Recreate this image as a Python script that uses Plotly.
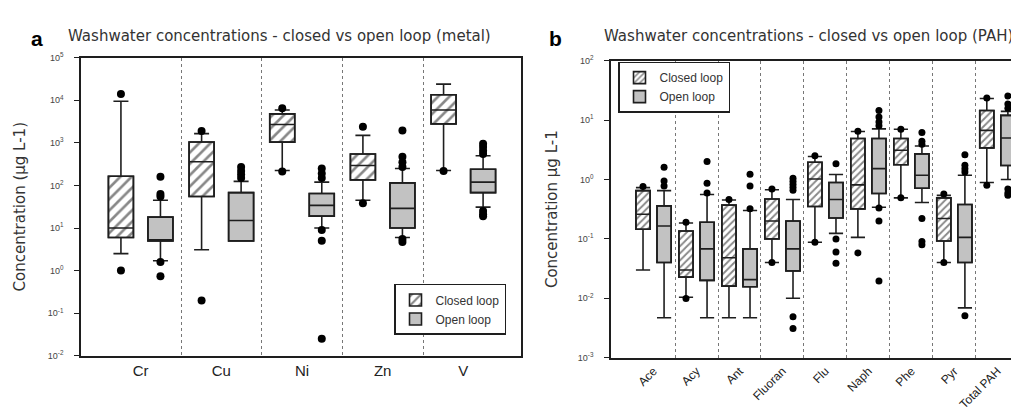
import plotly.graph_objects as go

# ---------------- data: panel a (metals) ----------------
metals = ["Cr", "Cu", "Ni", "Zn", "V"]
m_closed_lf = [2.5, 3.1, 225, 45, 225]
m_closed_q1 = [6, 55, 1040, 135, 2800]
m_closed_med = [10, 360, 2700, 295, 5900]
m_closed_q3 = [165, 1050, 4800, 550, 13500]
m_closed_uf = [9500, 1650, 5900, 1500, 24000]
m_closed_out = [[14000, 1.0], [1900, 0.2], [6500, 212], [2400, 38], [220]]

m_open_lf = [1.7, 5, 10, 6, 31]
m_open_q1 = [5, 5, 19, 10, 68]
m_open_med = [5, 15, 34, 29, 120]
m_open_q3 = [18, 68, 65, 115, 240]
m_open_uf = [45, 125, 120, 250, 500]
m_open_out = [[160, 63, 55, 1.6, 0.74],
              [270, 220, 180, 150],
              [250, 190, 150, 9, 5, 0.025],
              [1950, 470, 350, 270, 5.5, 4.7],
              [950, 800, 650, 550, 25, 21, 19]]

# ---------------- data: panel b (PAH) ----------------
pahs = ["Ace", "Acy", "Ant", "Fluoran", "Flu", "Naph", "Phe", "Pyr", "Total PAH"]
p_closed_lf = [0.030, 0.0104, 0.0047, 0.040, 0.088, 0.106, 0.49, 0.040, 0.89]
p_closed_q1 = [0.145, 0.0227, 0.016, 0.10, 0.35, 0.32, 1.77, 0.092, 3.4]
p_closed_med = [0.26, 0.030, 0.048, 0.20, 1.02, 0.81, 3.1, 0.22, 6.7]
p_closed_q3 = [0.65, 0.136, 0.37, 0.47, 1.95, 4.9, 4.9, 0.49, 14.5]
p_closed_uf = [0.73, 0.185, 0.45, 0.67, 2.44, 6.4, 7.0, 0.54, 23]
p_closed_out = [[0.76], [0.19, 0.0099], [0.46], [0.69, 0.04], [2.5, 0.088],
                [6.5, 0.058], [7.0, 0.49], [0.57, 0.040], [23.5, 0.8]]

p_open_lf = [0.0047, 0.0047, 0.0047, 0.010, 0.124, 0.34, 0.41, 0.0069, 1.0]
p_open_q1 = [0.040, 0.020, 0.0156, 0.029, 0.225, 0.58, 0.71, 0.040, 1.72]
p_open_med = [0.165, 0.068, 0.0206, 0.068, 0.46, 1.52, 1.18, 0.106, 5.0]
p_open_q3 = [0.36, 0.19, 0.068, 0.20, 0.89, 4.9, 2.7, 0.38, 12]
p_open_uf = [0.65, 0.56, 0.30, 0.46, 1.21, 7.1, 3.65, 1.18, 14]
p_open_out = [[1.6, 0.94, 0.78], [2.0, 0.86, 0.59], [1.22, 0.78, 0.32],
              [1.05, 0.93, 0.83, 0.74, 0.66, 0.0049, 0.0031],
              [1.83, 0.10, 0.060, 0.039],
              [14.5, 11.3, 9.3, 8.0, 0.33, 0.20, 0.0195],
              [6.2, 4.4, 3.9, 0.22, 0.09, 0.08],
              [2.6, 1.73, 1.52, 1.34, 0.0051],
              [25.5, 18.6, 15.8, 0.69, 0.59, 0.54]]

metal_ticks = [1e-2, 1e-1, 1, 10, 100, 1e3, 1e4, 1e5]
metal_ticktext = ["10<sup>-2</sup>", "10<sup>-1</sup>", "10<sup>0</sup>", "10<sup>1</sup>",
                  "10<sup>2</sup>", "10<sup>3</sup>", "10<sup>4</sup>", "10<sup>5</sup>"]
pah_ticks = [1e-3, 1e-2, 1e-1, 1, 10, 100]
pah_ticktext = ["10<sup>-3</sup>", "10<sup>-2</sup>", "10<sup>-1</sup>", "10<sup>0</sup>",
                "10<sup>1</sup>", "10<sup>2</sup>"]

# ---------------- style ----------------
FONT = "Liberation Sans, Arial, sans-serif"
TFONT = "DejaVu Sans, Verdana, sans-serif"
LINE = "#1e1e1e"
GREY = "#c2c2c2"
OFF = 0.245

fig = go.Figure()


def add_panel(cats, groups, xa, ya, legend, bw, hatch_size, hatch_sol, whisk, msize):
    n = len(cats)
    for gi, (name, lf, q1, med, q3, uf, outs) in enumerate(groups):
        off = -OFF if gi == 0 else OFF
        xs = [i + off for i in range(n)]
        if gi == 0:
            marker = dict(color="white", line=dict(color=LINE, width=1.6),
                          pattern=dict(shape="/", fgcolor="#111111", bgcolor="white",
                                       size=hatch_size, solidity=hatch_sol))
        else:
            marker = dict(color=GREY, line=dict(color=LINE, width=1.6))
        fig.add_trace(go.Bar(x=xs, y=[b - a for a, b in zip(q1, q3)], base=q1,
                             width=bw, marker=marker, name=name, xaxis=xa, yaxis=ya,
                             legend=legend, showlegend=True, hoverinfo="skip"))
        fig.add_trace(go.Box(x=xs, q1=q1, median=med, q3=q3, lowerfence=lf,
                             upperfence=uf, orientation="v", width=bw,
                             whiskerwidth=whisk, fillcolor="rgba(0,0,0,0)",
                             line=dict(color=LINE, width=1.6), boxpoints=False,
                             xaxis=xa, yaxis=ya, showlegend=False, hoverinfo="skip"))
        ox, oy = [], []
        for i, vals in enumerate(outs):
            for v in vals:
                ox.append(xs[i])
                oy.append(v)
        fig.add_trace(go.Scatter(x=ox, y=oy, mode="markers",
                                 marker=dict(color="black", size=msize),
                                 xaxis=xa, yaxis=ya, showlegend=False, hoverinfo="skip"))


add_panel(metals,
          [("Closed loop", m_closed_lf, m_closed_q1, m_closed_med, m_closed_q3, m_closed_uf, m_closed_out),
           ("Open loop", m_open_lf, m_open_q1, m_open_med, m_open_q3, m_open_uf, m_open_out)],
          "x", "y", "legend", 0.31, 8, 0.33, 0.6, 8)
add_panel(pahs,
          [("Closed loop", p_closed_lf, p_closed_q1, p_closed_med, p_closed_q3, p_closed_uf, p_closed_out),
           ("Open loop", p_open_lf, p_open_q1, p_open_med, p_open_q3, p_open_uf, p_open_out)],
          "x2", "y2", "legend2", 0.33, 5, 0.38, 1.0, 7)

axis_common = dict(showline=True, linecolor=LINE, linewidth=1.5, zeroline=False, showgrid=False)

fig.update_layout(
    width=1019, height=412, margin=dict(l=0, r=0, t=0, b=0),
    paper_bgcolor="white", plot_bgcolor="white",
    font=dict(family=FONT, color="#333333"),
    barmode="overlay", boxmode="overlay",
    xaxis=dict(domain=[73 / 1019, 513 / 1019], range=[-0.74, 4.715],
               tickmode="array", tickvals=list(range(len(metals))), ticktext=metals,
               ticks="", mirror=True, tickfont=dict(size=15, color="#222"),
               minor=dict(tickvals=[i + 0.5 for i in range(len(metals) - 1)], showgrid=True,
                          griddash="dot", gridcolor="#777777", gridwidth=1, ticks=""),
               **axis_common),
    yaxis=dict(domain=[(412 - 351) / 412, (412 - 44) / 412], type="log", range=[-2, 5],
               tickmode="array", tickvals=metal_ticks, ticktext=metal_ticktext,
               ticks="outside", ticklen=5, tickcolor=LINE, mirror=True,
               tickfont=dict(size=9, color="#444"), ticklabelstandoff=9,
               title=dict(text="Concentration (µg L-1)",
                          font=dict(family=TFONT, size=15, color="#333"), standoff=19),
               **axis_common),
    xaxis2=dict(domain=[603 / 1019, 1.0], range=[-0.99, 8.69], anchor="y2",
                tickmode="array", tickvals=list(range(len(pahs))), ticktext=pahs,
                tickangle=-45, ticks="", mirror=True, tickfont=dict(size=12, color="#222"),
                minor=dict(tickvals=[i + 0.5 for i in range(len(pahs) - 1)], showgrid=True,
                           griddash="dot", gridcolor="#777777", gridwidth=1, ticks=""),
                **axis_common),
    yaxis2=dict(domain=[(412 - 353) / 412, (412 - 47) / 412], type="log", range=[-3, 2],
                anchor="x2", tickmode="array", tickvals=pah_ticks, ticktext=pah_ticktext,
                ticks="outside", ticklen=5, tickcolor=LINE, mirror=False,
                tickfont=dict(size=9, color="#444"), ticklabelstandoff=9,
                title=dict(text="Concentration µg L-1",
                           font=dict(family=TFONT, size=15, color="#333"), standoff=17),
                **axis_common),
    legend=dict(x=386 / 1019, y=(412 - 277) / 412, xanchor="left", yanchor="top",
                bgcolor="white", bordercolor=LINE, borderwidth=1.5,
                font=dict(size=12, color="#333"), tracegroupgap=0),
    legend2=dict(x=610 / 1019, y=(412 - 48) / 412, xanchor="left", yanchor="top",
                 bgcolor="white", bordercolor=LINE, borderwidth=1.5,
                 font=dict(size=12, color="#333"), tracegroupgap=0),
    annotations=[
        dict(text="Washwater concentrations - closed vs open loop (metal)", x=58 / 1019,
             y=(412 - 22) / 412, xref="paper", yref="paper", xanchor="left", yanchor="middle",
             showarrow=False, font=dict(family=TFONT, size=15, color="#333")),
        dict(text="<b>a</b>", x=29 / 1019, y=(412 - 24) / 412, xref="paper", yref="paper",
             xanchor="center", yanchor="middle", showarrow=False,
             font=dict(size=21, color="#000")),
        dict(text="Washwater concentrations - closed vs open loop (PAH)", x=594 / 1019,
             y=(412 - 22) / 412, xref="paper", yref="paper", xanchor="left", yanchor="middle",
             showarrow=False, font=dict(family=TFONT, size=15, color="#333")),
        dict(text="<b>b</b>", x=547 / 1019, y=(412 - 24) / 412, xref="paper", yref="paper",
             xanchor="center", yanchor="middle", showarrow=False,
             font=dict(size=21, color="#000")),
    ],
)

fig.write_html("out.html")
